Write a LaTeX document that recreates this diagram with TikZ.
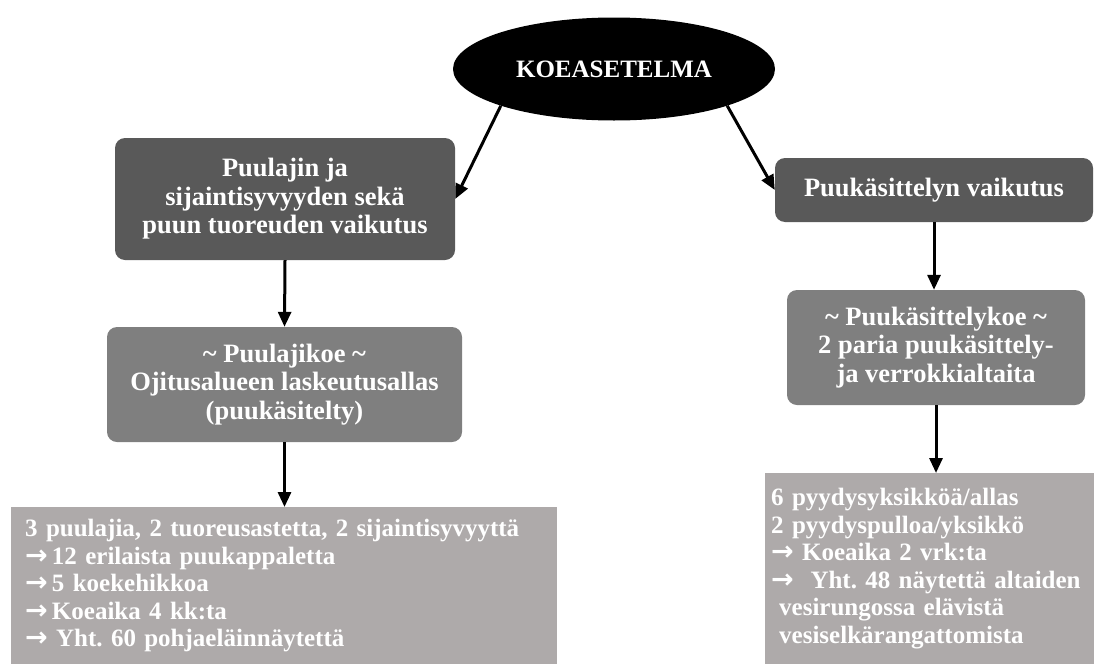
\documentclass[tikz,border=0pt]{standalone}
\usepackage{fontspec}
\setmainfont{Liberation Serif}
\newfontfamily\nuolifont{DejaVu Sans}
\usetikzlibrary{arrows.meta,shapes.geometric}
\definecolor{dark}{HTML}{595959}
\definecolor{mid}{HTML}{7F7F7F}
\definecolor{light}{HTML}{AEAAAA}
\newcommand{\nuoli}{{\nuolifont\bfseries\fontsize{27}{27}\selectfont →}}
\tikzset{
  head/.style={
    ellipse, fill=black, text=white, inner sep=0pt,
    minimum width=322pt, minimum height=103pt,
    font=\fontsize{25}{28}\selectfont\bfseries
  },
  topbox/.style={
    fill=dark, rounded corners=10pt, inner sep=0pt,
    text=white, align=center,
    font=\fontsize{26.5}{28.5}\selectfont\bfseries\frenchspacing
  },
  midbox/.style={topbox, fill=mid},
  listbox/.style={
    fill=light, anchor=north west, inner ysep=0pt,
    text=white, align=left,
    font=\fontsize{25}{27.5}\selectfont\bfseries\frenchspacing
  },
  arrow/.style={-{Triangle[length=15pt,width=13pt]}, line width=3pt}
}
\begin{document}
\begin{tikzpicture}[x=1pt,y=-1pt]
  \useasboundingbox (0,0) rectangle (1094,664);
  % otsikko
  \node[head] (koe) at (614,69) {KOEASETELMA};
  % vaikutukset
  \node[topbox, minimum width=340pt, minimum height=122pt] (vaik1) at (285,199)
    {Puulajin ja\\sijaintisyvyyden sekä\\puun tuoreuden vaikutus};
  \node[topbox, minimum width=318pt, minimum height=64pt] (vaik2) at (934,190)
    {Puukäsittelyn vaikutus};
  \draw[arrow] (koe.198) -- (vaik1.east);
  \draw[arrow] (koe.342) -- (vaik2.west);
  % kokeet
  \node[midbox, minimum width=355pt, minimum height=115pt] (koe1) at (284.5,384.5)
    {\textasciitilde{} Puulajikoe \textasciitilde\\Ojitusalueen laskeutusallas\\(puukäsitelty)};
  \node[midbox, minimum width=298pt, minimum height=115pt] (koe2) at (936,347.5)
    {\textasciitilde{} Puukäsittelykoe \textasciitilde\\2 paria puukäsittely-\\ja verrokkialtaita};
  \draw[arrow] (vaik1.south) -- (koe1.north);
  \draw[arrow] (vaik2.south) -- (vaik2.south |- koe2.north);
  % tulokset
  \node[listbox, inner xsep=14pt, text width=518pt, minimum height=157pt] (tulos1) at (11,507)
    {3 puulajia, 2 tuoreusastetta, 2 sijaintisyvyyttä\\
     \nuoli\,12 erilaista puukappaletta\\
     \nuoli\,5 koekehikkoa\\
     \nuoli\,Koeaika 4 kk:ta\\
     \nuoli{} Yht. 60 pohjaeläinnäytettä};
  \node[listbox, inner xsep=6pt, text width=317pt, minimum height=191pt] (tulos2) at (765,473)
    {6 pyydysyksikköä/allas\\
     2 pyydyspulloa/yksikkö\\
     \nuoli{} Koeaika 2 vrk:ta\\
     \nuoli{} \ Yht. 48 näytettä altaiden\\
     \hspace*{8pt}vesirungossa elävistä\\
     \hspace*{8pt}vesiselkärangattomista};
  \draw[arrow] (koe1.south) -- (koe1.south |- tulos1.north);
  \draw[arrow] (koe2.south) -- (koe2.south |- tulos2.north);
\end{tikzpicture}
\end{document}
